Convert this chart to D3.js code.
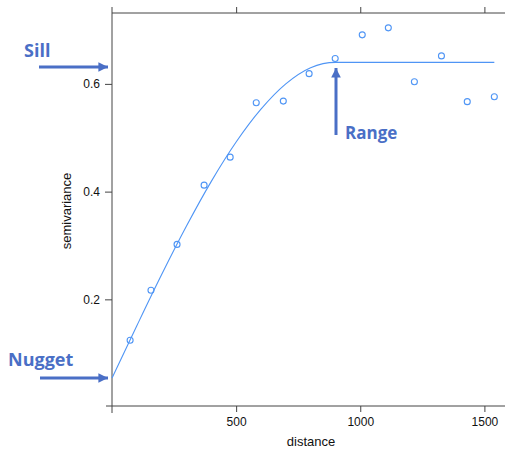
<!DOCTYPE html>
<meta charset="utf-8">
<head>
<style>
    body {margin: 0; background: #fff;}
    text {font-family: "Liberation Sans", Arial, sans-serif;}
    .note {font-family: "Open Sans", sans-serif; font-weight: 700; fill: #4a6fc6;}
</style>
<script src="https://d3js.org/d3.v7.min.js"></script>
</head>
<body>
    <div id="vgm"></div>
<script>

var distances = [73, 157, 262, 371, 476, 581, 690, 794, 899, 1008, 1113, 1218, 1327, 1431, 1540];
var gammas = [0.124, 0.217, 0.302, 0.412, 0.464, 0.565, 0.568, 0.619, 0.647, 0.691, 0.704, 0.604, 0.652, 0.567, 0.576];

// fitted model curve
var modelDist = [0, 100, 200, 300, 400, 500, 600, 700, 800, 900, 1540];
var modelGamma = [0.054, 0.151, 0.246, 0.336, 0.419, 0.492, 0.553, 0.600, 0.630, 0.640, 0.640];

var xTicks = [500, 1000, 1500];
var yTicks = [0.2, 0.4, 0.6];

var width = 505, height = 454;
var padLeft = 112, padRight = 505, padTop = 13, padBottom = 406;
var pointColor = "#4f95f5";
var noteColor = "#4a6fc6";

var svg = d3.select("div#vgm").append("svg")
    .attr("width", width)
    .attr("height", height);

var x = d3.scaleLinear().domain([0, 1583]).range([padLeft, padRight]);
var y = d3.scaleLinear().domain([0.002, 0.7316]).range([padBottom, padTop]);

// frame lines (lattice style, open on the right)
var frame = svg.append("g").attr("stroke", "#444").attr("stroke-width", 1);
frame.append("line").attr("x1", padLeft).attr("x2", padLeft).attr("y1", 7).attr("y2", 413);
frame.append("line").attr("x1", 106).attr("x2", padRight).attr("y1", padBottom).attr("y2", padBottom);
frame.append("line").attr("x1", padLeft).attr("x2", padRight).attr("y1", padTop).attr("y2", padTop);

// axes
var xAxis = svg.append("g")
    .attr("transform", "translate(0," + padBottom + ")")
    .call(d3.axisBottom(x).tickValues(xTicks).tickSize(6).tickPadding(5).tickFormat(d3.format("d")));
var xTop = svg.append("g")
    .attr("transform", "translate(0," + padTop + ")")
    .call(d3.axisTop(x).tickValues(xTicks).tickSize(6).tickFormat(""));
var yAxis = svg.append("g")
    .attr("transform", "translate(" + padLeft + ",0)")
    .call(d3.axisLeft(y).tickValues(yTicks).tickSize(7).tickPadding(5).tickFormat(d3.format(".1f")));

[xAxis, xTop, yAxis].forEach(function(g) {
    g.select(".domain").remove();
    g.selectAll(".tick line").attr("stroke", "#444");
    g.selectAll(".tick text")
        .attr("fill", "#111")
        .style("font-size", "12px")
        .style("font-family", "'Liberation Sans', Arial, sans-serif");
});

// axis titles
svg.append("text")
    .attr("x", 311).attr("y", 446)
    .attr("text-anchor", "middle")
    .style("font-size", "13px")
    .attr("fill", "#111")
    .text("distance");

svg.append("text")
    .attr("transform", "translate(71,211) rotate(-90)")
    .attr("text-anchor", "middle")
    .style("font-size", "13px")
    .attr("fill", "#111")
    .text("semivariance");

// model line
var model = modelDist.map(function(d, i) { return [d, modelGamma[i]]; });
svg.append("path")
    .datum(model)
    .attr("fill", "none")
    .attr("stroke", pointColor)
    .attr("stroke-width", 1.1)
    .attr("d", d3.line()
        .x(function(d) { return x(d[0]); })
        .y(function(d) { return y(d[1]); })
        .curve(d3.curveMonotoneX));

// sample points
svg.append("g")
    .selectAll("circle")
    .data(distances)
    .enter().append("circle")
    .attr("cx", function(d) { return x(d); })
    .attr("cy", function(d, i) { return y(gammas[i]); })
    .attr("r", 3)
    .attr("fill", "none")
    .attr("stroke", pointColor)
    .attr("stroke-width", 1.1);

// annotations
var defs = svg.append("defs");
defs.append("marker")
    .attr("id", "head")
    .attr("viewBox", "0 0 10 10")
    .attr("refX", 10).attr("refY", 5)
    .attr("markerWidth", 3.2).attr("markerHeight", 3.2)
    .attr("markerUnits", "strokeWidth")
    .attr("orient", "auto")
    .append("path")
    .attr("d", "M0,0L10,5L0,10Z")
    .attr("fill", noteColor);

function arrow(x1, y1, x2, y2) {
    svg.append("line")
        .attr("x1", x1).attr("y1", y1)
        .attr("x2", x2).attr("y2", y2)
        .attr("stroke", noteColor)
        .attr("stroke-width", 3)
        .attr("marker-end", "url(#head)");
}

arrow(39, 67, 108, 67);
arrow(40, 378, 108, 378);
arrow(336, 135, 336, 68);

svg.append("text").attr("class", "note").attr("x", 24).attr("y", 57)
    .style("font-size", "18px").text("Sill");
svg.append("text").attr("class", "note").attr("x", 8).attr("y", 366)
    .style("font-size", "18px").text("Nugget");
svg.append("text").attr("class", "note").attr("x", 345).attr("y", 139)
    .style("font-size", "17px").text("Range");

</script>
</body>
